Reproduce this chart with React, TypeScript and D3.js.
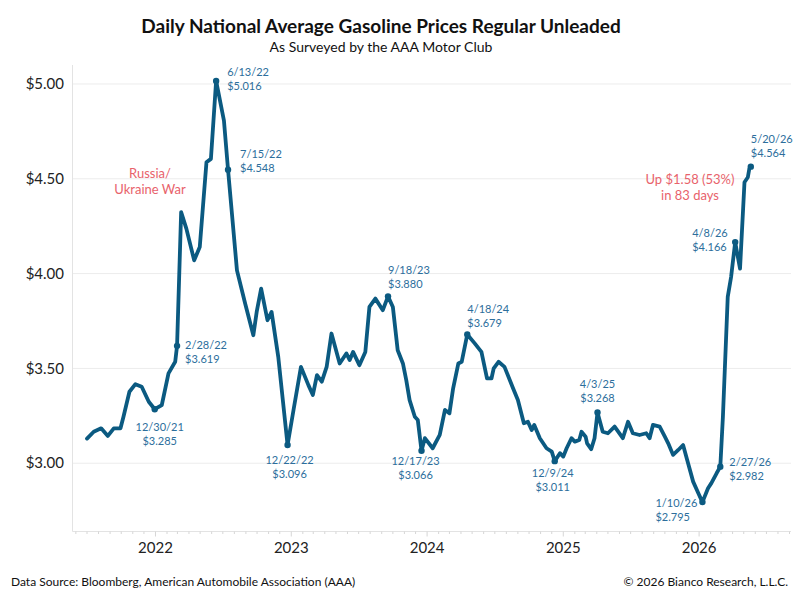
import React, { useEffect, useRef } from 'react';
import * as d3 from 'd3';

// Daily AAA national average, every 1-3 weeks
const DATES: string[] = [
  '2021-07-01', '2021-07-19', '2021-08-08', '2021-08-26', '2021-09-11', '2021-09-29', '2021-10-07',
  '2021-10-23', '2021-11-08', '2021-11-25', '2021-12-14', '2021-12-30', '2022-01-18', '2022-02-05',
  '2022-02-23', '2022-02-28', '2022-03-11', '2022-03-25', '2022-04-15', '2022-04-30', '2022-05-18',
  '2022-05-30', '2022-06-13', '2022-07-04', '2022-07-15', '2022-08-08', '2022-08-30', '2022-09-21',
  '2022-09-30', '2022-10-12', '2022-10-29', '2022-11-09', '2022-11-27', '2022-12-22', '2023-01-07',
  '2023-01-27', '2023-02-16', '2023-02-28', '2023-03-11', '2023-03-24', '2023-04-06', '2023-04-19',
  '2023-05-11', '2023-05-29', '2023-06-07', '2023-06-16', '2023-07-03', '2023-07-19', '2023-07-30',
  '2023-08-15', '2023-09-04', '2023-09-18', '2023-10-01', '2023-10-14', '2023-10-28', '2023-11-06',
  '2023-11-15', '2023-11-29', '2023-12-07', '2023-12-17', '2023-12-26', '2024-01-16', '2024-02-04',
  '2024-02-18', '2024-03-01', '2024-03-11', '2024-03-25', '2024-04-03', '2024-04-18', '2024-05-08',
  '2024-05-26', '2024-06-10', '2024-06-22', '2024-06-28', '2024-07-11', '2024-07-27', '2024-08-19',
  '2024-09-01', '2024-09-17', '2024-09-28', '2024-10-08', '2024-10-15', '2024-10-30', '2024-11-17',
  '2024-12-01', '2024-12-09', '2024-12-23', '2025-01-01', '2025-01-10', '2025-01-23', '2025-02-01',
  '2025-02-13', '2025-02-19', '2025-03-02', '2025-03-06', '2025-03-17', '2025-03-26', '2025-04-03',
  '2025-04-17', '2025-05-01', '2025-05-19', '2025-06-10', '2025-06-24', '2025-07-07', '2025-07-25',
  '2025-08-12', '2025-08-21', '2025-08-30', '2025-09-17', '2025-10-01', '2025-10-10', '2025-10-23',
  '2025-11-06', '2025-11-19', '2025-11-30', '2025-12-16', '2025-12-30', '2026-01-10', '2026-01-25',
  '2026-02-03', '2026-02-17', '2026-02-27', '2026-03-06', '2026-03-19', '2026-03-28', '2026-04-08',
  '2026-04-21', '2026-05-03', '2026-05-12', '2026-05-16', '2026-05-20',
];

const PRICES: number[] = [
  3.13, 3.166, 3.184, 3.144, 3.184, 3.184, 3.245,
  3.377, 3.417, 3.403, 3.324, 3.285, 3.307, 3.474,
  3.535, 3.619, 4.324, 4.237, 4.07, 4.14, 4.587,
  4.605, 5.016, 4.807, 4.548, 4.017, 3.842, 3.675,
  3.798, 3.921, 3.754, 3.798, 3.561, 3.096, 3.281,
  3.508, 3.412, 3.36, 3.465, 3.43, 3.508, 3.684,
  3.526, 3.579, 3.544, 3.587, 3.517, 3.587, 3.824,
  3.868, 3.807, 3.88, 3.824, 3.596, 3.526, 3.438,
  3.333, 3.245, 3.228, 3.066, 3.132, 3.079, 3.149,
  3.281, 3.263, 3.395, 3.526, 3.535, 3.679, 3.632,
  3.587, 3.447, 3.447, 3.5, 3.535, 3.508, 3.395,
  3.333, 3.211, 3.219, 3.175, 3.202, 3.132, 3.079,
  3.061, 3.011, 3.053, 3.035, 3.079, 3.132, 3.114,
  3.123, 3.166, 3.14, 3.105, 3.074, 3.132, 3.268,
  3.166, 3.158, 3.193, 3.132, 3.219, 3.158, 3.149,
  3.158, 3.132, 3.202, 3.193, 3.14, 3.105, 3.044,
  3.07, 3.096, 3.017, 2.903, 2.842, 2.795, 2.868,
  2.895, 2.947, 2.982, 3.245, 3.877, 3.982, 4.166,
  4.026, 4.482, 4.508, 4.553, 4.564,
];

// Marked points with their labels
const MARK_DATES: string[] = [
  '2021-12-30', '2022-02-28', '2022-06-13', '2022-07-15', '2022-12-22', '2023-09-18', '2023-12-17',
  '2024-04-18', '2024-12-09', '2025-04-03', '2026-01-10', '2026-02-27', '2026-04-08', '2026-05-20',
];
const MARK_VALUES: number[] = [3.285, 3.619, 5.016, 4.548, 3.096, 3.88, 3.066, 3.679, 3.011, 3.268, 2.795, 2.982, 4.166, 4.564];
const MARK_TEXT: string[] = [
  '12/30/21', '2/28/22', '6/13/22', '7/15/22', '12/22/22', '9/18/23', '12/17/23',
  '4/18/24', '12/9/24', '4/3/25', '1/10/26', '2/27/26', '4/8/26', '5/20/26',
];
// label placement relative to the point: [dx, dy of first line, anchor]
const MARK_LAYOUT: [number, number, string][] = [
  [5, 18, 'middle'], [8, -1, 'start'], [11, -9, 'start'], [12, -15.5, 'start'], [2, 15, 'middle'],
  [0, -26, 'start'], [-6, 10.5, 'middle'], [0, -25.5, 'start'], [-2, 12, 'middle'], [0, -28.5, 'middle'],
  [-47, 1, 'start'], [9, -4.5, 'start'], [-43, -9, 'start'], [0, -27, 'start'],
];

const Y_TICKS: number[] = [3.0, 3.5, 4.0, 4.5, 5.0];

const FONT = 'Lato, "Open Sans", sans-serif';
const LINE = '#0b5a81';
const LABEL = '#2c6e9c';
const RED = '#e8626b';

const App: React.FC = () => {
  const ref = useRef<SVGSVGElement>(null);

  useEffect(() => {
    const svgEl = ref.current;
    if (!svgEl) return;
    const svg = d3.select(svgEl);
    svg.selectAll('*').remove();

    const parse = d3.timeParse('%Y-%m-%d');
    const data = DATES.map((d, i) => ({ date: parse(d) as Date, value: PRICES[i] }));

    const x = d3
      .scaleTime()
      .domain([new Date(2021, 4, 23), new Date(2026, 8, 5)])
      .range([72.5, 791]);
    const y = d3.scaleLinear().domain([2.64, 5.1]).range([531.5, 65]);

    const [x0, x1] = x.range();
    const [yb, yt] = y.range();

    // gridlines
    svg
      .append('g')
      .selectAll('line')
      .data(Y_TICKS)
      .join('line')
      .attr('x1', x0)
      .attr('x2', x1)
      .attr('y1', (d) => y(d))
      .attr('y2', (d) => y(d))
      .attr('stroke', '#ececec')
      .attr('stroke-width', 1);

    // frame lines
    svg.append('line').attr('x1', x0).attr('x2', x0).attr('y1', yt).attr('y2', yb).attr('stroke', '#e3e3e3');
    svg.append('line').attr('x1', x0).attr('x2', x1).attr('y1', yb).attr('y2', yb).attr('stroke', '#e3e3e3');

    // y labels
    svg
      .append('g')
      .selectAll('text')
      .data(Y_TICKS)
      .join('text')
      .attr('x', 64)
      .attr('y', (d) => y(d))
      .attr('dy', '0.35em')
      .attr('text-anchor', 'end')
      .attr('font-family', FONT)
      .attr('font-size', 15)
      .attr('fill', '#222')
      .text((d) => d3.format('$.2f')(d));

    // x ticks: months minor, years major
    const months = x.ticks(d3.timeMonth.every(1) as d3.TimeInterval);
    svg
      .append('g')
      .selectAll('line')
      .data(months)
      .join('line')
      .attr('x1', (d) => x(d))
      .attr('x2', (d) => x(d))
      .attr('y1', yb)
      .attr('y2', (d) => yb + (d.getMonth() === 0 ? 5 : 2.5))
      .attr('stroke', '#d6d6d6');

    const years = x.ticks(d3.timeYear.every(1) as d3.TimeInterval);
    svg
      .append('g')
      .selectAll('text')
      .data(years)
      .join('text')
      .attr('x', (d) => x(d))
      .attr('y', 548)
      .attr('dy', '0.35em')
      .attr('text-anchor', 'middle')
      .attr('font-family', FONT)
      .attr('font-size', 15)
      .attr('fill', '#222')
      .text((d) => d3.timeFormat('%Y')(d));

    const line = d3
      .line<{ date: Date; value: number }>()
      .x((d) => x(d.date))
      .y((d) => y(d.value));

    svg
      .append('path')
      .datum(data)
      .attr('d', line)
      .attr('fill', 'none')
      .attr('stroke', LINE)
      .attr('stroke-width', 3.8)
      .attr('stroke-linejoin', 'round')
      .attr('stroke-linecap', 'round');

    const marks = MARK_DATES.map((d, i) => ({
      date: parse(d) as Date,
      value: MARK_VALUES[i],
      text: MARK_TEXT[i],
      layout: MARK_LAYOUT[i],
    }));

    svg
      .append('g')
      .selectAll('circle')
      .data(marks)
      .join('circle')
      .attr('cx', (d) => x(d.date))
      .attr('cy', (d) => y(d.value))
      .attr('r', 3.2)
      .attr('fill', LINE);

    const labels = svg
      .append('g')
      .selectAll('text')
      .data(marks)
      .join('text')
      .attr('font-family', FONT)
      .attr('font-size', 11)
      .attr('fill', LABEL)
      .attr('text-anchor', (d) => d.layout[2]);
    labels
      .append('tspan')
      .attr('x', (d) => x(d.date) + d.layout[0])
      .attr('y', (d) => y(d.value) + d.layout[1])
      .attr('dy', '0.35em')
      .text((d) => d.text);
    labels
      .append('tspan')
      .attr('x', (d) => x(d.date) + d.layout[0])
      .attr('y', (d) => y(d.value) + d.layout[1] + 14)
      .attr('dy', '0.35em')
      .text((d) => d3.format('$.3f')(d.value));

    const note = (cx: number, cy: number, lines: string[]) => {
      const t = svg
        .append('text')
        .attr('font-family', FONT)
        .attr('font-size', 13)
        .attr('fill', RED)
        .attr('text-anchor', 'middle');
      lines.forEach((s, i) => {
        t.append('tspan').attr('x', cx).attr('y', cy + i * 16).attr('dy', '0.35em').text(s);
      });
    };
    note(150, 173, ['Russia/', 'Ukraine War']);
    note(690, 179, ['Up $1.58 (53%)', 'in 83 days']);

    // titles & footer
    svg
      .append('text')
      .attr('x', 381)
      .attr('y', 32.5)
      .attr('text-anchor', 'middle')
      .attr('font-family', FONT)
      .attr('font-weight', 700)
      .attr('font-size', 19)
      .attr('fill', '#111')
      .text('Daily National Average Gasoline Prices Regular Unleaded');
    svg
      .append('text')
      .attr('x', 381)
      .attr('y', 52)
      .attr('text-anchor', 'middle')
      .attr('font-family', FONT)
      .attr('font-size', 14)
      .attr('fill', '#111')
      .text('As Surveyed by the AAA Motor Club');
    svg
      .append('text')
      .attr('x', 11)
      .attr('y', 586)
      .attr('font-family', FONT)
      .attr('font-size', 12)
      .attr('fill', '#111')
      .text('Data Source: Bloomberg, American Automobile Association (AAA)');
    svg
      .append('text')
      .attr('x', 788)
      .attr('y', 586)
      .attr('text-anchor', 'end')
      .attr('font-family', FONT)
      .attr('font-size', 12)
      .attr('fill', '#111')
      .text('© 2026 Bianco Research, L.L.C.');
  }, []);

  return (
    <svg
      ref={ref}
      width={800}
      height={600}
      style={{ position: 'absolute', left: 0, top: 0, background: '#fff' }}
      aria-label="Daily national average gasoline prices"
    />
  );
};

export default App;
